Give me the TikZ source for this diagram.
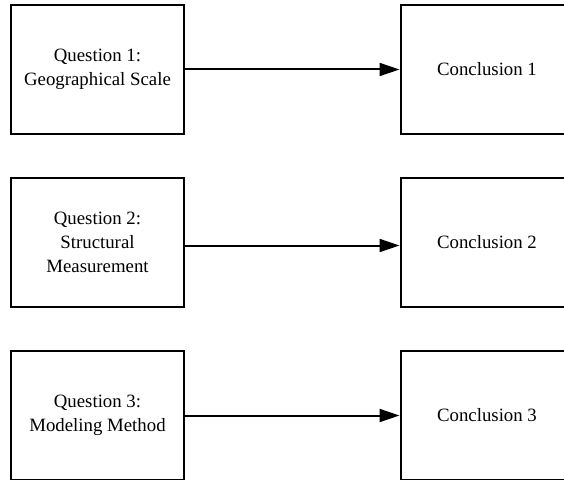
\documentclass[tikz,border=0pt]{standalone}
\usepackage{fontspec}
\setmainfont{Liberation Serif}
\usetikzlibrary{arrows.meta}
\begin{document}
\begin{tikzpicture}[x=1pt,y=-1pt,
  qbox/.style={draw=black,line width=2pt,minimum width=173pt,minimum height=129pt,
    inner sep=0pt,align=center,font=\fontsize{18.8pt}{24pt}\selectfont},
  conn/.style={line width=2pt,-{Triangle[length=20pt,width=13pt]}}]
\useasboundingbox (0,0) rectangle (564,481);
\clip (0,0) rectangle (564,479.5);
\fill[white] (0,0) rectangle (564,481);
\node[qbox] (q1) at (97.5,69.5) {Question 1:\\Geographical Scale};
\node[qbox] (q2) at (97.5,242.5) {Question 2:\\Structural\\Measurement};
\node[qbox] (q3) at (97.5,415.5) {Question 3:\\Modeling Method};
\node[qbox] (c1) at (487,69.5) {Conclusion 1};
\node[qbox] (c2) at (487,242.5) {Conclusion 2};
\node[qbox] (c3) at (487,415.5) {Conclusion 3};
\draw[conn] (q1.east) -- (c1.west);
\draw[conn] ([yshift=-3pt]q2.east) -- ([yshift=-3pt]c2.west);
\draw[conn] (q3.east) -- (c3.west);
\end{tikzpicture}
\end{document}
